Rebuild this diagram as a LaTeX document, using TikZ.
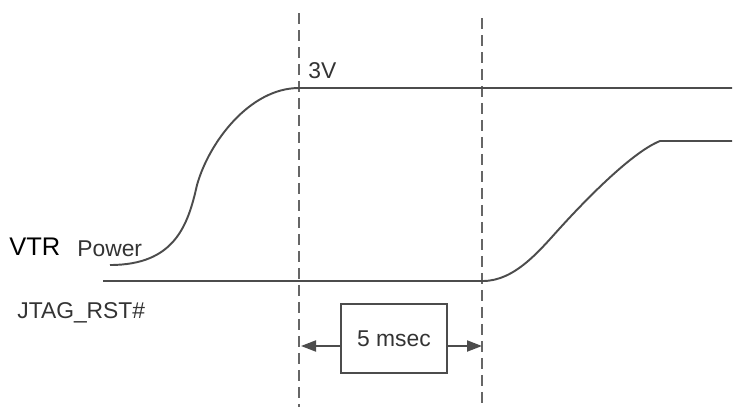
\documentclass[tikz,border=0pt]{standalone}
\usepackage{fontspec}
\setmainfont{Liberation Sans}
\usetikzlibrary{arrows.meta}

\begin{document}
\begin{tikzpicture}[x=0.02cm, y=-0.02cm,
    wave/.style={draw=black!70, line width=1.1pt},
    marker/.style={wave, draw=black!60, dash pattern=on 0.22cm off 0.12cm},
    lbl/.style={inner sep=0pt, anchor=base west, text=black!80, font=\fontsize{13}{15}\selectfont},
    span/.style={wave, -{Triangle[length=0.3cm, width=0.22cm]}}]
    \useasboundingbox (0,0) rectangle (737,407);
    % time markers
    \foreach \x/\y/\n in {299/13/ta, 482/18/tb} {
      \coordinate (\n1) at (\x,\y);
      \coordinate (\n2) at (\x,407);
      \draw[marker] (\n1) -- (\n2);
    }
    % signals
    \draw[wave] (110,265) .. controls (175,265) and (188,225) .. (197,185)
      .. controls (209,142) and (250,88) .. (299,88) -- (732,88);
    \draw[wave] (103,281) -- (483,281) .. controls (515,281) and (540,250) .. (560,228)
      .. controls (580,206) and (630,153) .. (660,141) -- (732,141);
    % labels
    \node[lbl] (volt) at (308,78) {3V};
    \node[lbl, text=black, font=\fontsize{14.5}{17}\selectfont] (vtr) at (9,255) {VTR};
    \node[lbl] (pwr) at (77,256) {Power};
    \node[lbl] (jtag) at (17,318) {JTAG\_RST\#};
    % delay
    \node[wave, text=black!80, font=\fontsize{13}{15}\selectfont, inner sep=0pt,
      minimum width=2.12cm, minimum height=1.38cm] (delay) at (394,338.5) {5 msec};
    \coordinate (la) at (301,346);
    \coordinate (ra) at (482,346);
    \draw[span] (delay.west |- la) -- (la);
    \draw[span] (delay.east |- ra) -- (ra);
\end{tikzpicture}
\end{document}
